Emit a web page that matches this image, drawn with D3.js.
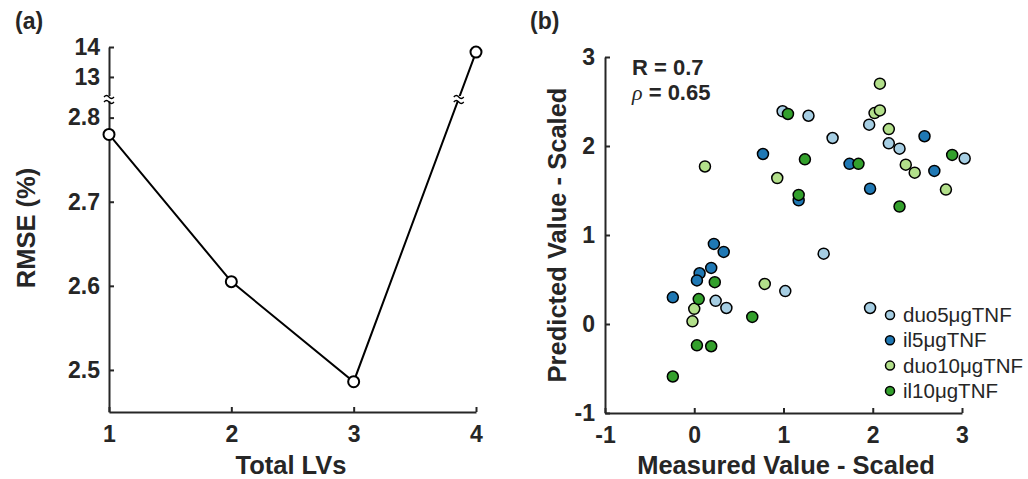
<html lang="en">
<head>
	<title>RMSE and prediction</title>
	<script src="https://d3js.org/d3.v7.min.js" charset="utf-8"></script>
	<style>
		body { margin: 0; background: #fff; }
		text { font-family: "Liberation Sans", Arial, sans-serif; fill: #262626; }
	</style>
</head>
<body>
	<script>
	// panel (a) data
	var lvs = [1, 2, 3, 4];
	var rmse = [2.78, 2.605, 2.486, 13.83];
	var lvTicks = [1, 2, 3, 4];
	var rmseLoTicks = [2.5, 2.6, 2.7, 2.8];
	var rmseHiTicks = [13, 14];

	// panel (b) data, one array per group
	var groups = ["duo5μgTNF", "il5μgTNF", "duo10μgTNF", "il10μgTNF"];
	var colors = ["#a6cee3", "#1f78b4", "#b2df8a", "#33a02c"];
	var duo5 = [[0.99,2.39],[1.28,2.34],[1.55,2.09],[1.96,2.24],[2.18,2.03],[2.30,1.97],[3.03,1.86],[1.45,0.79],[1.02,0.37],[0.24,0.26],[0.36,0.18],[1.97,0.18]];
	var il5 = [[0.77,1.91],[1.17,1.39],[2.58,2.11],[1.74,1.80],[2.69,1.72],[1.97,1.52],[0.22,0.90],[0.33,0.81],[0.19,0.63],[0.06,0.57],[0.03,0.49],[-0.24,0.30]];
	var duo10 = [[0.12,1.77],[0.93,1.64],[2.08,2.70],[2.02,2.37],[2.08,2.40],[2.18,2.19],[2.37,1.79],[2.47,1.70],[2.82,1.51],[0.79,0.45],[0.00,0.17],[-0.02,0.03]];
	var il10 = [[1.05,2.36],[1.24,1.85],[1.17,1.45],[1.84,1.80],[2.89,1.90],[2.30,1.32],[0.23,0.47],[0.05,0.28],[0.65,0.08],[0.03,-0.24],[0.19,-0.25],[-0.24,-0.59]];
	var series = [duo5, il5, duo10, il10];
	var bTicks = [-1, 0, 1, 2, 3];
	var stats = ["R = 0.7", "0.65"];

	var w = 1028, h = 479;
	var ink = "#262626";
	var tickFont = 23, titleFont = 25.5;

	var svg = d3.select("body").append("svg")
		.attr("width", w)
		.attr("height", h);

	// plain hyphen for negatives, like the original figure
	function plain(d) { return String(d); }

	// ---------- panel (a) ----------
	var xA = d3.scaleLinear().domain([1, 4]).range([109, 476]);
	var yLo = d3.scaleLinear().domain([2.45, 2.82]).range([412, 100.8]);
	var yHi = d3.scaleLinear().domain([12.33, 14]).range([97, 47]);
	function yA(v) { return v > 5 ? yHi(v) : yLo(v); }

	function styleAxis(g) {
		g.attr("font-size", tickFont).attr("font-family", "'Liberation Sans', Arial, sans-serif")
			.attr("font-weight", "bold");
		g.selectAll(".domain").attr("stroke", ink).attr("stroke-width", 2);
		g.selectAll(".tick line").attr("stroke", ink).attr("stroke-width", 2);
		g.selectAll(".tick text")
			.attr("fill", ink)
			.attr("font-size", tickFont)
			.style("font-weight", "bold")
			.style("font-size", tickFont + "px");
	}

	var axA = svg.append("g")
		.attr("transform", "translate(0,412)")
		.call(d3.axisBottom(xA).tickValues(lvTicks).tickFormat(plain)
			.tickSizeInner(-5).tickSizeOuter(0).tickPadding(14));
	styleAxis(axA);

	var ayLo = svg.append("g")
		.attr("transform", "translate(109,0)")
		.call(d3.axisLeft(yLo).tickValues(rmseLoTicks).tickFormat(d3.format(".1f"))
			.tickSizeInner(-5).tickSizeOuter(0).tickPadding(9));
	styleAxis(ayLo);

	var ayHi = svg.append("g")
		.attr("transform", "translate(109,0)")
		.call(d3.axisLeft(yHi).tickValues(rmseHiTicks).tickFormat(plain)
			.tickSizeInner(-5).tickSizeOuter(0).tickPadding(9));
	styleAxis(ayHi);

	// line and markers
	var pts = lvs.map(function(d, i) { return [xA(d), yA(rmse[i])]; });
	svg.append("path")
		.attr("d", d3.line()(pts))
		.attr("fill", "none")
		.attr("stroke", "#000")
		.attr("stroke-width", 2);

	// break marks on axis and on the line
	function breakMark(cx, cy) {
		svg.append("rect")
			.attr("x", cx - 6).attr("y", cy - 2.5)
			.attr("width", 12).attr("height", 5)
			.attr("fill", "#fff");
		[-2.5, 2.5].forEach(function(o) {
			svg.append("path")
				.attr("d", "M" + (cx - 5) + "," + (cy + o + 1) +
					" q2.5,-3 5,0 t5,0")
				.attr("fill", "none")
				.attr("stroke", "#000")
				.attr("stroke-width", 1.3);
		});
	}
	breakMark(109, 98.5);
	var t = (pts[2][1] - 98.5) / (pts[2][1] - pts[3][1]);
	breakMark(pts[2][0] + t * (pts[3][0] - pts[2][0]), 98.5);

	svg.selectAll("circle.a")
		.data(pts)
		.enter()
		.append("circle")
		.attr("class", "a")
		.attr("cx", function(d) { return d[0]; })
		.attr("cy", function(d) { return d[1]; })
		.attr("r", 5.5)
		.attr("fill", "#fff")
		.attr("stroke", "#000")
		.attr("stroke-width", 2);

	svg.append("text")
		.attr("x", 291).attr("y", 474)
		.attr("text-anchor", "middle")
		.style("font-weight", "bold").style("font-size", titleFont + "px")
		.text("Total LVs");
	svg.append("text")
		.attr("transform", "translate(35,228) rotate(-90)")
		.attr("text-anchor", "middle")
		.style("font-weight", "bold").style("font-size", titleFont + "px")
		.text("RMSE (%)");
	svg.append("text")
		.attr("x", 15).attr("y", 29)
		.style("font-weight", "bold").style("font-size", "23px")
		.text("(a)");

	// ---------- panel (b) ----------
	var xB = d3.scaleLinear().domain([-1, 3]).range([605, 962]);
	var yB = d3.scaleLinear().domain([-1, 3]).range([413, 57]);

	var axB = svg.append("g")
		.attr("transform", "translate(0,413)")
		.call(d3.axisBottom(xB).tickValues(bTicks).tickFormat(plain)
			.tickSizeInner(-5).tickSizeOuter(0).tickPadding(14));
	styleAxis(axB);
	var ayB = svg.append("g")
		.attr("transform", "translate(605,0)")
		.call(d3.axisLeft(yB).tickValues(bTicks).tickFormat(plain)
			.tickSizeInner(-5).tickSizeOuter(0).tickPadding(10));
	styleAxis(ayB);

	series.forEach(function(s, i) {
		svg.selectAll("circle.s" + i)
			.data(s)
			.enter()
			.append("circle")
			.attr("class", "s" + i)
			.attr("cx", function(d) { return xB(d[0]); })
			.attr("cy", function(d) { return yB(d[1]); })
			.attr("r", 5.5)
			.attr("fill", colors[i])
			.attr("stroke", "#000")
			.attr("stroke-width", 1.5);
	});

	svg.append("text")
		.attr("x", 632).attr("y", 75)
		.style("font-weight", "bold").style("font-size", "22px")
		.text(stats[0]);
	var rho = svg.append("text")
		.attr("x", 632).attr("y", 100)
		.style("font-weight", "bold").style("font-size", "22px");
	rho.append("tspan").style("font-style", "italic").style("font-weight", "normal")
		.style("font-family", "'Liberation Serif', serif").text("ρ");
	rho.append("tspan").text(" = " + stats[1]);

	// legend
	var leg = svg.selectAll("g.leg")
		.data(groups)
		.enter()
		.append("g")
		.attr("class", "leg")
		.attr("transform", function(d, i) { return "translate(890," + (315 + i * 25.3) + ")"; });
	leg.append("circle")
		.attr("r", 4.5)
		.attr("fill", function(d, i) { return colors[i]; })
		.attr("stroke", "#000")
		.attr("stroke-width", 1.5);
	leg.append("text")
		.attr("x", 13).attr("dy", "0.35em")
		.style("font-size", "20.5px")
		.text(function(d) { return d; });

	svg.append("text")
		.attr("x", 786).attr("y", 474)
		.attr("text-anchor", "middle")
		.style("font-weight", "bold").style("font-size", titleFont + "px")
		.text("Measured Value - Scaled");
	svg.append("text")
		.attr("transform", "translate(566,235) rotate(-90)")
		.attr("text-anchor", "middle")
		.style("font-weight", "bold").style("font-size", titleFont + "px")
		.text("Predicted Value - Scaled");
	svg.append("text")
		.attr("x", 530).attr("y", 29)
		.style("font-weight", "bold").style("font-size", "23px")
		.text("(b)");
	</script>
</body>
</html>
